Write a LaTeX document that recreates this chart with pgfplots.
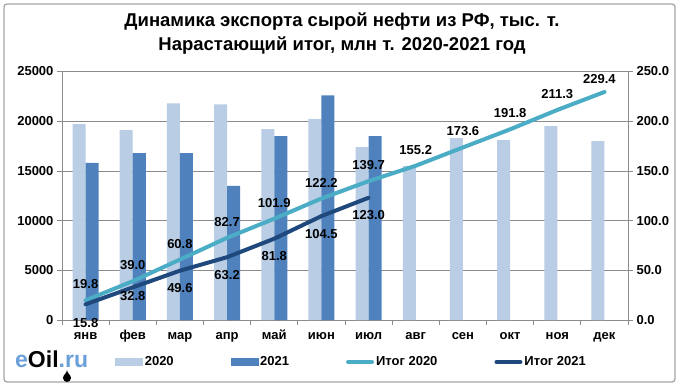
\documentclass[border=0pt]{standalone}
\usepackage{pgfplots}
\pgfplotsset{compat=1.18}
\usepackage{fontspec}
\setmainfont{Liberation Sans}
\definecolor{c2020}{HTML}{B9CDE5}
\definecolor{c2021}{HTML}{4F81BD}
\definecolor{t2020}{HTML}{4BACC6}
\definecolor{t2021}{HTML}{1F497D}
\definecolor{logo}{HTML}{6A9FD8}
\definecolor{gridc}{HTML}{8C8C8C}
\newcommand{\tf}{\fontsize{13}{15}\selectfont\bfseries}
\begin{document}
\begin{tikzpicture}[x=1pt,y=1pt]
\useasboundingbox (-62,-69) rectangle (620,320);
\draw[rounded corners=3pt, draw=black!35, line width=1.3pt] (-58,-62) rectangle (613,316);
\node[font=\fontsize{18.5}{24}\selectfont\bfseries, align=center] at (280,286) {Динамика экспорта сырой нефти из РФ, тыс. т.\\Нарастающий итог, млн т. 2020-2021 год};
\node[anchor=base west, font=\fontsize{23}{23}\selectfont\bfseries, inner sep=0pt] at (-47,-47) {\textcolor{logo}{e}Oil\textcolor{logo}{.ru}};
\fill[black] (5,-50) .. controls (5,-53) and (1,-55) .. (1,-58) arc[start angle=180, end angle=360, radius=4] .. controls (9,-55) and (5,-53) .. (5,-50);
\begin{axis}[
  at={(0,0)}, anchor=south west, scale only axis,
  width=566pt, height=248.5pt,
  xmin=-0.5, xmax=11.5, ymin=0, ymax=25000,
  ybar=0pt, bar width=13pt,
  axis lines*=left,
  axis line style={draw=gridc, line width=0.8pt},
  xtick={-0.5,0.5,...,11.5},
  x tick label as interval,
  xticklabels={янв,фев,мар,апр,май,июн,июл,авг,сен,окт,ноя,дек},
  xticklabel style={text height=1.6ex, text depth=0.3ex, yshift=-3pt},
  ytick={0,5000,...,25000},
  ymajorgrids, major grid style={draw=gridc, line width=0.8pt},
  tick align=outside, major tick length=5pt,
  tick style={draw=gridc, line width=0.8pt},
  scaled y ticks=false,
  /pgf/number format/1000 sep={},
  /pgf/number format/assume math mode=true,
  ticklabel style={font=\tf},
]
\addplot[fill=c2020, draw=none] coordinates {(0,19700) (1,19100) (2,21800) (3,21700) (4,19200) (5,20200) (6,17400) (7,15500) (8,18300) (9,18100) (10,19500) (11,18000)};
\addplot[fill=c2021, draw=none] coordinates {(0,15800) (1,16800) (2,16800) (3,13500) (4,18500) (5,22600) (6,18500)};
\end{axis}
\begin{axis}[
  at={(0,0)}, anchor=south west, scale only axis,
  width=566pt, height=248.5pt,
  xmin=-0.5, xmax=11.5, ymin=0, ymax=250,
  axis x line=none, axis y line*=right,
  axis line style={draw=gridc, line width=0.8pt},
  ytick={0,50,...,250},
  yticklabel={\pgfmathprintnumber[fixed,fixed zerofill,precision=1]{\tick}},
  tick align=outside, major tick length=5pt,
  tick style={draw=gridc, line width=0.8pt},
  /pgf/number format/assume math mode=true,
  ticklabel style={font=\tf},
  legend style={draw=none, fill=none, at={(0.094,-0.169)}, anchor=west, font=\tf, inner sep=0pt, /tikz/every even column/.append style={column sep=55pt}},
  legend columns=4,
  nodes near coords={\pgfmathprintnumber[fixed,fixed zerofill,precision=1]{\pgfplotspointmeta}},
]
\addlegendimage{legend image code/.code={\fill[c2020] (0pt,-3.5pt) rectangle (27pt,3.5pt);}}
\addlegendentry{2020}
\addlegendimage{legend image code/.code={\fill[c2021] (0pt,-3.5pt) rectangle (27pt,3.5pt);}}
\addlegendentry{2021}
\addplot[t2020, line width=4pt, line cap=round, line join=round, mark=none, nodes near coords={}, legend image code/.code={\draw[t2020, line width=4pt, line cap=round] (2pt,0pt) -- (26pt,0pt);}] coordinates {(0,19.8) (1,39.0) (2,60.8) (3,82.7) (4,101.9) (5,122.2) (6,139.7) (7,155.2) (8,173.6) (9,191.8) (10,211.3) (11,229.4)};
\addlegendentry{Итог 2020}
\addplot[t2021, line width=4pt, line cap=round, line join=round, mark=none, nodes near coords={}, legend image code/.code={\draw[t2021, line width=4pt, line cap=round] (2pt,0pt) -- (26pt,0pt);}] coordinates {(0,15.8) (1,32.8) (2,49.6) (3,63.2) (4,81.8) (5,104.5) (6,123.0)};
\addlegendentry{Итог 2021}
% labels 2020
\addplot[draw=none, mark=none, forget plot, point meta=y, every node near coord/.append style={anchor=center, yshift=16pt, font=\tf, text=black}] coordinates {(0,19.8) (1,39.0) (2,60.8) (3,82.7) (4,101.9) (5,122.2) (6,139.7) (7,155.2) (8,173.6) (9,191.8) (10,211.3)};
\addplot[draw=none, mark=none, forget plot, point meta=y, every node near coord/.append style={anchor=center, yshift=12.5pt, xshift=-5pt, font=\tf, text=black}] coordinates {(11,229.4)};
% labels 2021
\addplot[draw=none, mark=none, forget plot, point meta=y, every node near coord/.append style={anchor=center, yshift=-17.5pt, font=\tf, text=black}] coordinates {(2,49.6) (3,63.2) (4,81.8) (5,104.5) (6,123.0)};
\addplot[draw=none, mark=none, forget plot, point meta=y, every node near coord/.append style={anchor=center, yshift=-9pt, font=\tf, text=black}] coordinates {(1,32.8)};
\addplot[draw=none, mark=none, forget plot, point meta=y, every node near coord/.append style={anchor=center, yshift=-19pt, font=\tf, text=black}] coordinates {(0,15.8)};
\end{axis}
\end{tikzpicture}
\end{document}
